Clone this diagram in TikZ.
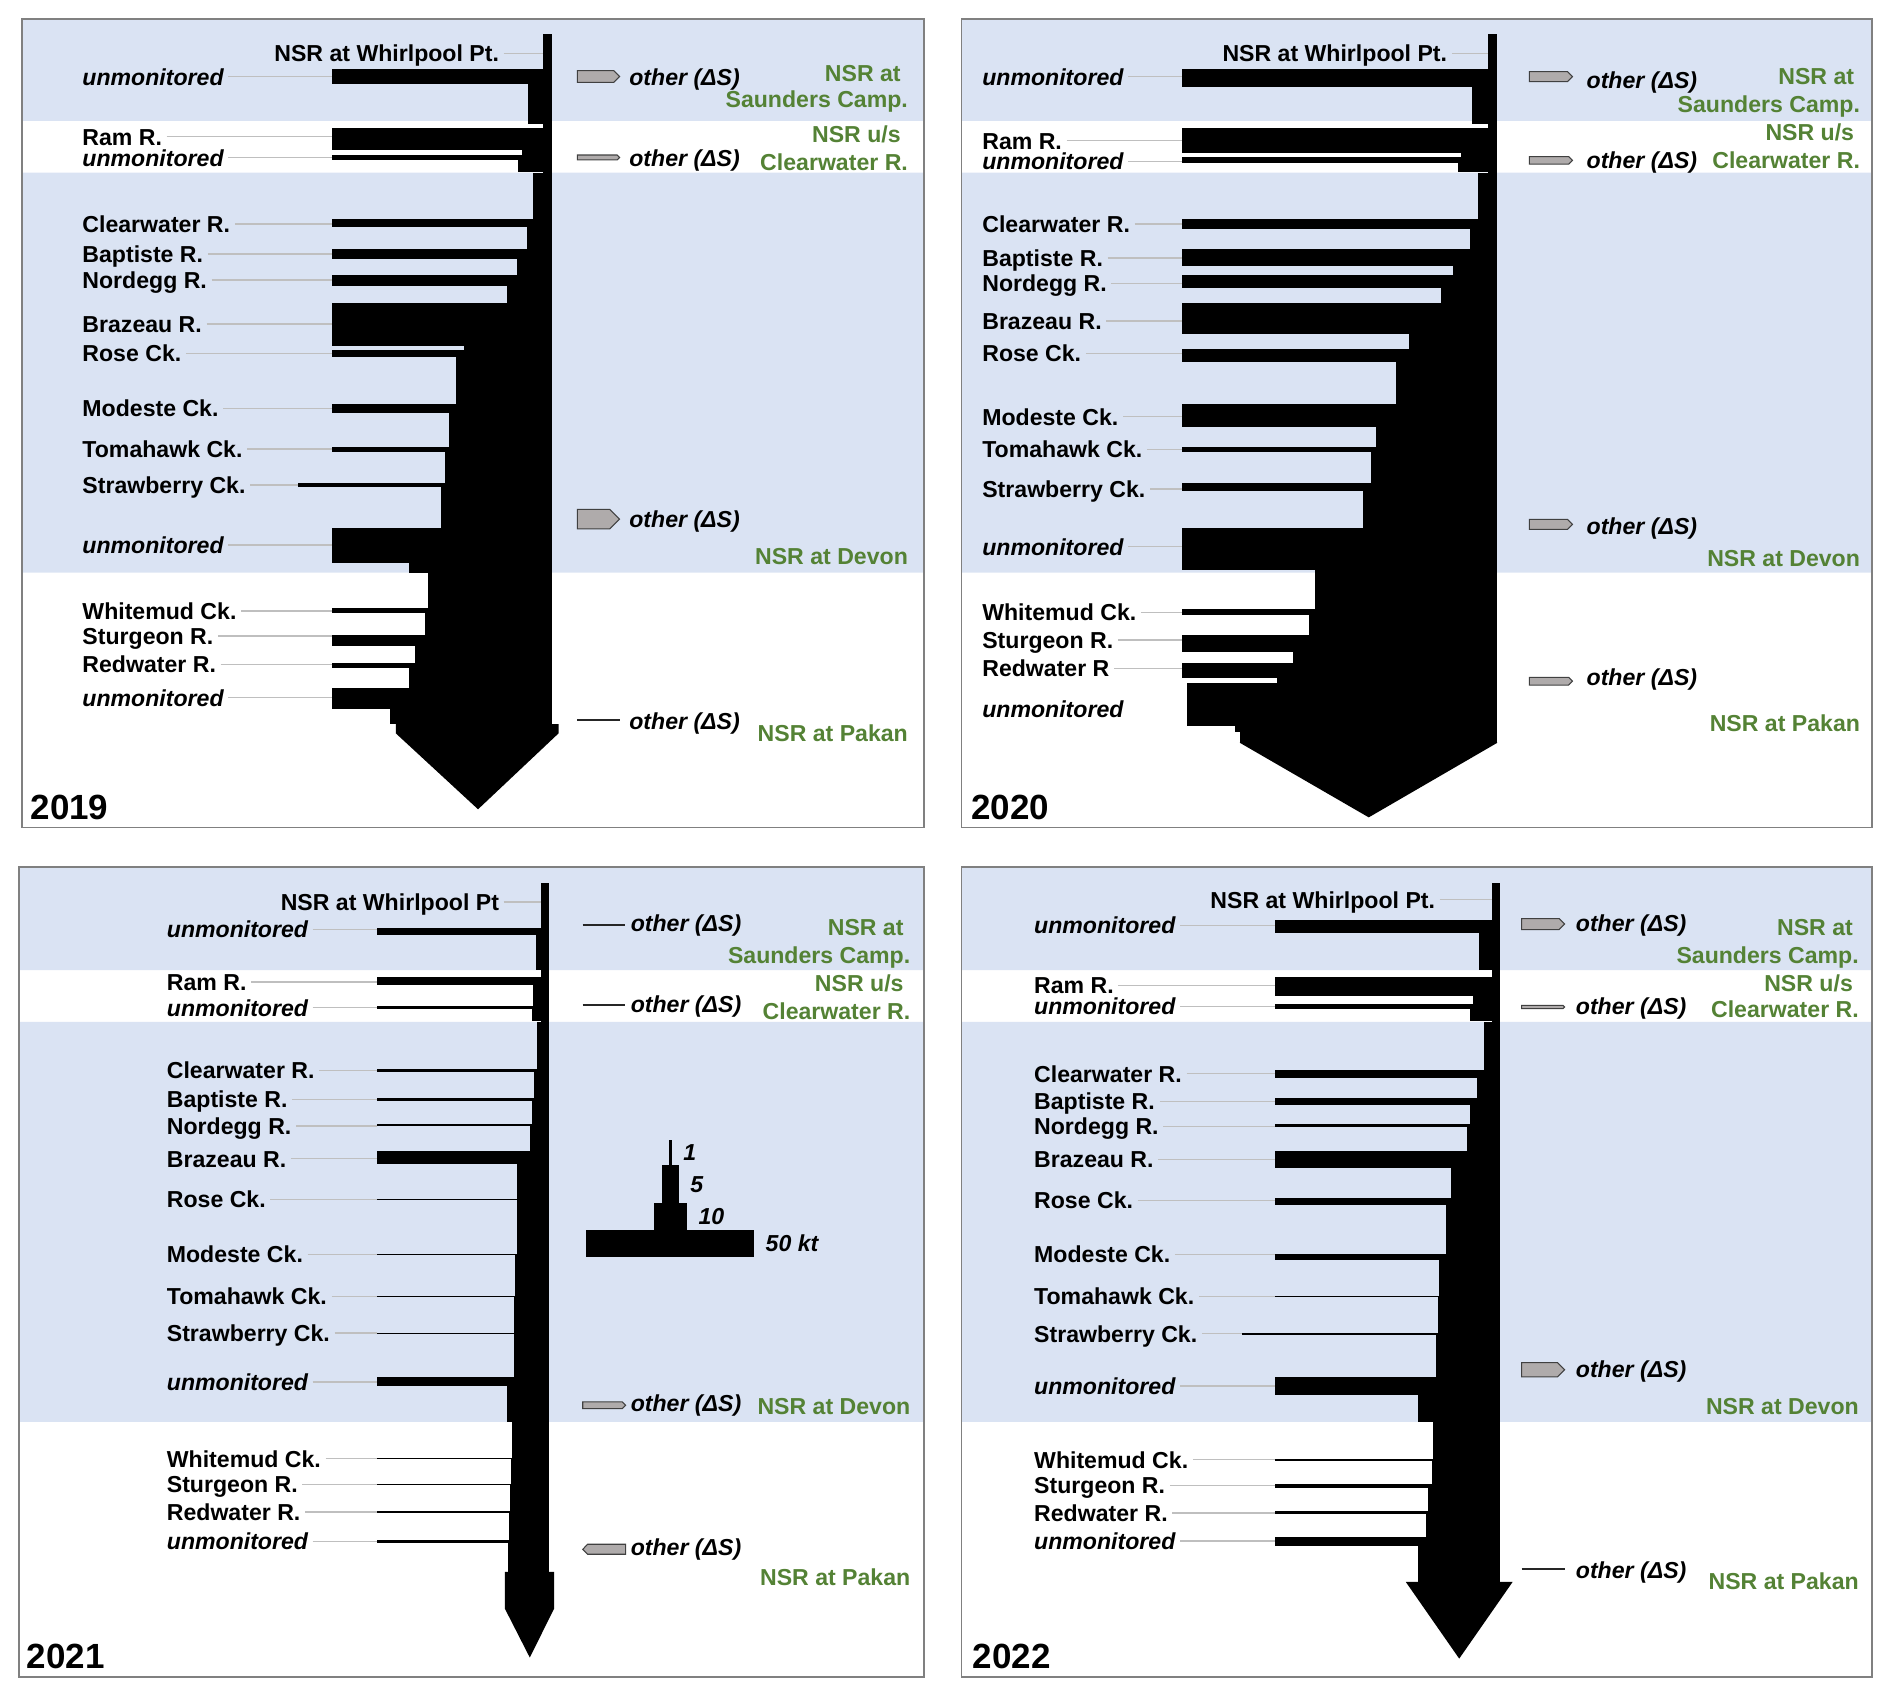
\documentclass[tikz,border=0pt]{standalone}
\usepackage{fontspec}
\setmainfont{Liberation Sans}
\usepackage{tikz}
\definecolor{bandblue}{RGB}{218,227,243}
\definecolor{sitegreen}{RGB}{84,130,53}
\definecolor{leadgray}{RGB}{191,191,191}
\definecolor{lossgray}{RGB}{175,171,171}
\definecolor{framegray}{RGB}{128,128,128}
\newcommand\labfont{\fontsize{10.9pt}{12pt}\selectfont\bfseries}
\newcommand\yearfont{\fontsize{16.5pt}{18pt}\selectfont\bfseries}

\begin{document}
\begin{tikzpicture}[x=0.02cm, y=-0.02cm,
	lbl/.style={font=\labfont, inner sep=0pt, text height=8pt, text depth=0pt, anchor=west},
	oth/.style={lbl, font=\labfont\itshape},
	site/.style={lbl, text=sitegreen, anchor=east},
	yr/.style={lbl, font=\yearfont, text height=11.8pt},
	gauge/.style={draw=leadgray, line width=0.6pt},
	loss/.style={fill=lossgray, draw=black!75, line width=0.5pt},
	nil/.style={draw=black!85, line width=0.9pt},
	frame/.style={draw=framegray, line width=0.8pt}]
	\useasboundingbox (0,0) rectangle (1568.5,1406);

	\foreach \xa/\xb in {18/766, 797/1552}
	\fill[bandblue] (\xa,16) rectangle (\xb,100.3) (\xa,143.2) rectangle (\xb,474.8);
	\foreach \xa/\xb in {16/766, 797/1552}
	\fill[bandblue] (\xa,719) rectangle (\xb,804.3) (\xa,847.2) rectangle (\xb,1178.8);

	\def\rx{458}
	\foreach \x/\ya/\yb in {450/28.2/600.2, 275/57.5/70, 438/70/103, 275/106.4/124.4,
		432.7/124.4/128.5, 275/128.5/132.6, 429.4/132.6/142.3, 441.8/143.2/181.8,
		275/181.8/188.5, 436.8/188.5/206.7, 275/206.7/215, 428.7/215/228,
		275/228/236.8, 420.2/236.8/250.9, 275/250.9/286.5, 384.5/286.5/290,
		275/290/296.2, 378/296.2/334.9, 275/334.9/342.1, 372/342.1/370.3,
		275/370.3/374.4, 369/374.4/400.1, 247.4/400.1/403.5, 366/403.5/438,
		275/438/466.5, 339/466.5/474.8, 355.2/474.8/504.3, 275/504.3/508.5,
		352.5/508.5/526.4, 275/526.4/535.3, 344/535.3/549.9, 275/549.9/554,
		339.4/554/570.6, 275/570.6/588, 323.5/588/600.2}
	\fill (\x,\ya) rectangle (\rx,\yb);
	\fill (328.2,600.2) -- (463,600.2) -- (463,608) -- (396.3,670.9) -- (328.2,608) -- cycle;

	\def\rx{1241.4}
	\foreach \x/\ya/\yb in {1233.9/28.2/615.7, 980.2/57.5/71.9, 1220/71.9/103.1, 980.2/106.4/127.1,
		1211/127.1/129.9, 980.2/129.9/134.9, 1208.6/134.9/142.3, 1225.6/143.2/181.8,
		980.2/181.8/189.8, 1218.8/189.8/206.7, 980.2/206.7/220.2, 1204.9/220.2/228,
		980.2/228/238.5, 1194.7/238.5/250.9, 980.2/250.9/276.9, 1168.3/276.9/289.6,
		980.2/289.6/300.4, 1157.7/300.4/334.9, 980.2/334.9/353.7, 1140.4/353.7/370.3,
		980.2/370.3/374.4, 1136.3/374.4/400.1, 980.2/400.1/407, 1129.8/407/438,
		980.2/438/472.5, 1089.9/472.5/504.9, 980.2/504.9/509.8, 1085.4/509.8/526.4,
		980.2/526.4/540.2, 1071.8/540.2/549.3, 980.2/549.3/562.3, 1058.6/562.3/566.5,
		984.3/566.5/601.8, 1023.9/601.8/607.1, 1027.7/607.1/615.7}
	\fill (\x,\ya) rectangle (\rx,\yb);
	\fill (1027.7,615.7) -- (1241.4,615.7) -- (1134.7,677.6) -- cycle;

	\def\rx{455}
	\foreach \x/\ya/\yb in {448.4/732/1303.1, 312.6/769.3/774.8, 444/774.8/804.3, 312.6/809.9/816.8,
		441.9/816.8/834.2, 312.6/834.2/836.1, 441/836.1/846, 445.5/847.2/885.9,
		312.6/885.9/888.6, 443.1/888.6/910.2, 312.6/910.2/913, 440.7/913/932,
		312.6/932/933.7, 439.2/933.7/954.4, 312.6/954.4/964.6, 428.9/964.6/993.6,
		312.6/993.6/994.6, 428.3/994.6/1039.2, 312.6/1039.2/1040.6, 426.8/1040.6/1074.3,
		312.6/1074.3/1075.3, 426.5/1075.3/1104.7, 312.6/1104.7/1105.7, 426.5/1105.7/1141.5,
		312.6/1141.5/1149, 420/1149/1178.8, 424.1/1178.8/1208.3, 312.6/1208.3/1209.7,
		423.5/1209.7/1229.9, 312.6/1229.9/1231.3, 423/1231.3/1252.8, 312.6/1252.8/1254,
		422/1254/1276.9, 312.6/1276.9/1279.1, 421.1/1279.1/1303.1}
	\fill (\x,\ya) rectangle (\rx,\yb);
	\fill (418.5,1303.1) -- (459.4,1303.1) -- (459.4,1333.5) -- (439.2,1374.1) -- (418.5,1333.5) -- cycle;

	\def\rx{1243.7}
	\foreach \x/\ya/\yb in {1236.6/732/1311.4, 1057/762.4/773.4, 1225.9/773.4/804.3, 1057/809.9/825.9,
		1221/825.9/832.5, 1057/832.5/836.1, 1218.8/836.1/846, 1230.1/847.2/887.2,
		1057/887.2/893.6, 1224.3/893.6/910.2, 1057/910.2/915.7, 1218.8/915.7/931.5,
		1057/931.5/934.2, 1216.2/934.2/954.4, 1057/954.4/968.2, 1202.9/968.2/993.1,
		1057/993.1/998.6, 1198.4/998.6/1039.2, 1057/1039.2/1044.7, 1192.6/1044.7/1074.3,
		1057/1074.3/1075.3, 1191.9/1075.3/1104.7, 1030/1104.7/1106.4, 1190.3/1106.4/1141.5,
		1057/1141.5/1156.7, 1175.7/1156.7/1178.8, 1188/1178.8/1209.7, 1057/1209.7/1211.1,
		1187/1211.1/1229.9, 1057/1229.9/1233.5, 1184.1/1233.5/1252.8, 1057/1252.8/1255.3,
		1182.2/1255.3/1274.1, 1057/1274.1/1281.6, 1175.7/1281.6/1311.4}
	\fill (\x,\ya) rectangle (\rx,\yb);
	\fill (1165.4,1311.4) -- (1254,1311.4) -- (1209.7,1375) -- cycle;

	\foreach \n/\txt/\y/\xs in {u1/{\itshape unmonitored}/63.6/275, ram/Ram R./113.3/275,
		u2/{\itshape unmonitored}/130.7/275, clw/Clearwater R./185.7/275, bap/Baptiste R./210.6/275,
		nor/Nordegg R./232.1/275, bra/Brazeau R./268.6/275, ros/Rose Ck./292.9/275,
		mod/Modeste Ck./338.5/275, tom/Tomahawk Ck./372.2/275, str/Strawberry Ck./402/247.4,
		u3/{\itshape unmonitored}/451.8/275, whi/Whitemud Ck./506.5/275, stu/Sturgeon R./527.2/275,
		red/Redwater R./550.7/275, u4/{\itshape unmonitored}/578.4/275} {
		\node[lbl] (a\n) at (68,\y) {\txt};
		\coordinate (ab\n) at (\xs,\y);
		\draw[gauge] ([xshift=2pt]a\n.east) -- (ab\n);
	}
	\foreach \n/\txt/\y/\xs in {u1/{\itshape unmonitored}/63.6/980.2, ram/Ram R./116.5/980.2,
		u2/{\itshape unmonitored}/133.6/980.2, clw/Clearwater R./185.7/980.2, bap/Baptiste R./213.9/980.2,
		nor/Nordegg R./234.9/980.2, bra/Brazeau R./266.1/980.2, ros/Rose Ck./292.9/980.2,
		mod/Modeste Ck./345.4/980.2, tom/Tomahawk Ck./372.5/980.2, str/Strawberry Ck./405.4/980.2,
		u3/{\itshape unmonitored}/453.2/980.2, whi/Whitemud Ck./507.6/980.2, stu/Sturgeon R./530.6/980.2,
		red/Redwater R/554/980.2} {
		\node[lbl] (b\n) at (814,\y) {\txt};
		\coordinate (bb\n) at (\xs,\y);
		\draw[gauge] ([xshift=2pt]b\n.east) -- (bb\n);
	}
	\node[lbl] (bu4) at (814,588) {\itshape unmonitored};
	\foreach \n/\txt/\y/\xs in {u1/{\itshape unmonitored}/770.4/312.6, ram/Ram R./814/312.6,
		u2/{\itshape unmonitored}/835.3/312.6, clw/Clearwater R./887.2/312.6, bap/Baptiste R./911.3/312.6,
		nor/Nordegg R./933.5/312.6, bra/Brazeau R./960.5/312.6, ros/Rose Ck./994.2/312.6,
		mod/Modeste Ck./1039.8/312.6, tom/Tomahawk Ck./1074.6/312.6, str/Strawberry Ck./1105/312.6,
		u3/{\itshape unmonitored}/1145.6/312.6, whi/Whitemud Ck./1209.2/312.6, stu/Sturgeon R./1230.4/312.6,
		red/Redwater R./1253.4/312.6, u4/{\itshape unmonitored}/1277.7/312.6} {
		\node[lbl] (c\n) at (138,\y) {\txt};
		\coordinate (cb\n) at (\xs,\y);
		\draw[gauge] ([xshift=2pt]c\n.east) -- (cb\n);
	}
	\foreach \n/\txt/\y/\xs in {u1/{\itshape unmonitored}/767.1/1057, ram/Ram R./816.8/1057,
		u2/{\itshape unmonitored}/834.2/1057, clw/Clearwater R./890/1057, bap/Baptiste R./913/1057,
		nor/Nordegg R./933.8/1057, bra/Brazeau R./961/1057, ros/Rose Ck./995/1057,
		mod/Modeste Ck./1040/1057, tom/Tomahawk Ck./1074.6/1057, str/Strawberry Ck./1105.6/1030,
		u3/{\itshape unmonitored}/1149/1057, whi/Whitemud Ck./1210/1057, stu/Sturgeon R./1231.3/1057,
		red/Redwater R./1254.2/1057, u4/{\itshape unmonitored}/1277.4/1057} {
		\node[lbl] (d\n) at (857,\y) {\txt};
		\coordinate (db\n) at (\xs,\y);
		\draw[gauge] ([xshift=2pt]d\n.east) -- (db\n);
	}

	\foreach \p/\txt/\x/\y/\xt in {a/NSR at Whirlpool Pt./414/44.2/450, b/NSR at Whirlpool Pt./1200/44.2/1233.9,
		c/NSR at Whirlpool Pt/414/747.7/448.4, d/NSR at Whirlpool Pt./1190/745.8/1236.6} {
		\node[lbl, anchor=east] (\p wp) at (\x,\y) {\txt};
		\coordinate (\p wpt) at (\xt,\y);
		\draw[gauge] ([xshift=2pt]\p wp.east) -- (\p wpt);
	}

	\foreach \p/\xl/\xr/\ya/\yb/\yc/\yd/\ye/\yf in {a/747/753/60.8/82.5/111.4/134.3/461/608,
		b/1537.4/1542.3/62.7/86/109.7/132.7/462.8/599.6,
		c/749.4/755/768.8/792/815/838/1165.4/1307,
		d/1536.4/1541.3/768.6/791.5/815/836.7/1165.4/1310.8} {
		\node[site] (\p s1) at (\xl,\ya) {NSR at};
		\node[site] (\p s2) at (\xr,\yb) {Saunders Camp.};
		\node[site] (\p s3) at (\xl,\yc) {NSR u/s};
		\node[site] (\p s4) at (\xr,\yd) {Clearwater R.};
		\node[site] (\p s5) at (\xr,\ye) {NSR at Devon};
		\node[site] (\p s6) at (\xr,\yf) {NSR at Pakan};
	}

	\foreach \p/\x/\ya/\yb/\yc/\yd in {a/521.4/63.6/131.3/430.6/597.5, b/1315/66.5/132.5/435.9/561.1,
		c/522.6/765/832.7/1163.4/1282.7, d/1306.1/765.4/833.7/1135.3/1301.6} {
		\node[oth] (\p o1) at (\x,\ya) {other (ΔS)};
		\node[oth] (\p o2) at (\x,\yb) {other (ΔS)};
		\node[oth] (\p o3) at (\x,\yc) {other (ΔS)};
		\node[oth] (\p o4) at (\x,\yd) {other (ΔS)};
	}

	\foreach \xa/\xb/\ya/\yb in {478.6/513.6/58.6/68.3, 478.6/513.6/128.5/132.6, 478.6/513.6/422.3/438.5,
		1267.8/1303.6/59.4/67.7, 1267.8/1303.6/129.9/136, 1267.8/1303.6/430.5/438.8, 1267.8/1303.6/561.5/567.9,
		483.1/518.6/1162.2/1167.7,
		1261.5/1297.1/761.5/770.6, 1261.5/1297.1/833.4/836.1, 1261.5/1297.1/1129.6/1141.5}
	\filldraw[loss] (\xa,\ya) -- ({\xb-(\yb-\ya)/2},\ya) -- (\xb,{(\ya+\yb)/2})
		-- ({\xb-(\yb-\ya)/2},\yb) -- (\xa,\yb) -- cycle;
	\filldraw[loss] (518.6,1280.2) -- (487.2,1280.2) -- (483.1,1284.35) -- (487.2,1288.5) -- (518.6,1288.5) -- cycle;
	\foreach \xa/\xb/\y in {478.6/513.6/596.9, 483.1/517.8/767, 483.1/517.8/833, 1261.5/1297.1/1300.9}
	\draw[nil] (\xa,\y) -- (\xb,\y);

	\foreach \n/\w/\ya/\yb/\txt in {k1/2.9/944.7/965.4/1, k5/14.2/965.4/997.2/5,
		k10/27.9/997.2/1019.3/10, k50/139.3/1019.3/1042/50 kt} {
		\fill ({555.8-\w/2},\ya) rectangle ({555.8+\w/2},\yb);
		\node[oth] (\n) at ({555.8+\w/2+9},{(\ya+\yb)/2}) {\txt};
	}

	\node[yr] (y19) at (25,669) {2019};
	\node[yr] (y20) at (805,669) {2020};
	\node[yr] (y21) at (22,1373) {2021};
	\node[yr] (y22) at (806,1373) {2022};

	\draw[frame] (18,16) rectangle (766,686) (797,16) rectangle (1552,686)
		(16,719) rectangle (766,1390) (797,719) rectangle (1552,1390);
\end{tikzpicture}
\end{document}
